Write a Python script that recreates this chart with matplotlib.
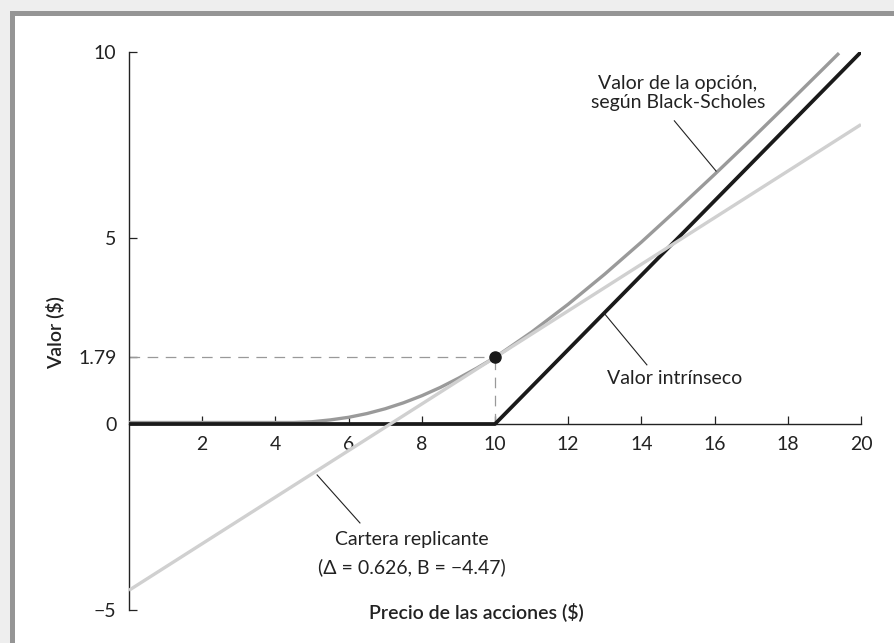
import matplotlib.pyplot as plt
from matplotlib.patches import Rectangle

plt.rcParams['font.family'] = ['Lato', 'DejaVu Sans']

# precio de la accion y valor de la opcion (Black-Scholes)
precio_bs = [0, 2, 4, 4.5, 5, 5.5, 6, 6.5, 7, 7.5, 8, 8.5, 9, 9.5, 10,
             10.5, 11, 12, 13, 14, 15, 16, 17, 18, 19, 19.4]
valor_bs = [0.04, 0.04, 0.04, 0.04, 0.06, 0.11, 0.18, 0.28, 0.41, 0.57,
            0.76, 0.98, 1.23, 1.50, 1.79, 2.13, 2.47, 3.22, 4.03, 4.89,
            5.79, 6.71, 7.65, 8.61, 9.58, 9.97]

# valor intrinseco
precio_int = [0, 10, 20]
valor_int = [0, 0, 10]

# cartera replicante
precio_rep = [0, 20]
valor_rep = [-4.47, 8.05]

punto = (10, 1.79)

xticks = [2, 4, 6, 8, 10, 12, 14, 16, 18, 20]
yticks = [-5, 0, 1.79, 5, 10]
ytick_labels = ['\u22125', '0', '1.79', '5', '10']

FS = 14
W, H = 894, 643
fig = plt.figure(figsize=(8.94, 6.43), dpi=100, facecolor='#eeeeee')
fig.patches.append(Rectangle((10 / W, 0), 1, 1 - 11 / H, transform=fig.transFigure,
                             facecolor='#959595', edgecolor='none', zorder=-10))
fig.patches.append(Rectangle((15 / W, 0), 1, 1 - 16 / H, transform=fig.transFigure,
                             facecolor='white', edgecolor='none', zorder=-9))

ax = fig.add_axes([129 / W, 1 - 610 / H, 732 / W, 558 / H])
ax.set_facecolor('none')
ax.set_xlim(0, 20)
ax.set_ylim(-5, 10)

ax.plot(precio_bs, valor_bs, color='#9a9a9a', lw=2.4, solid_capstyle='butt', zorder=3)
ax.plot(precio_int, valor_int, color='#1a1a1a', lw=2.7, solid_capstyle='butt', zorder=4)
ax.plot(precio_rep, valor_rep, color='#d0d0d0', lw=2.4, solid_capstyle='butt', zorder=5)

ax.plot([0, punto[0]], [punto[1], punto[1]], color='#999999', lw=0.9,
        dashes=(8.5, 6), zorder=2)
ax.plot([punto[0], punto[0]], [0, punto[1]], color='#999999', lw=0.9,
        dashes=(8.5, 6), zorder=2)
ax.plot(*punto, 'o', color='#1a1a1a', ms=8, zorder=6)

for s in ['top', 'right']:
    ax.spines[s].set_visible(False)
ax.spines['bottom'].set_position(('data', 0))
ax.spines['left'].set_bounds(-5, 10)
for s in ['left', 'bottom']:
    ax.spines[s].set_linewidth(1.0)
    ax.spines[s].set_color('#222222')

ax.set_xticks(xticks)
ax.set_yticks(yticks)
ax.set_yticklabels(ytick_labels)
ax.tick_params(axis='x', direction='in', length=6, width=0.9, pad=9,
               labelsize=FS, colors='#222222')
ax.tick_params(axis='y', direction='in', length=6, width=0.9, pad=9,
               labelsize=FS, colors='#222222')

# anotaciones
ax.plot([14.9, 16.04], [8.15, 6.8], color='#222222', lw=0.8, zorder=7)
ax.text(15.0, 8.9, 'Valor de la opción,\nsegún Black-Scholes', ha='center',
        va='center', fontsize=FS, color='#222222', linespacing=1.2)

ax.plot([12.98, 14.15], [2.98, 1.59], color='#222222', lw=0.8, zorder=7)
ax.text(14.9, 1.23, 'Valor intrínseco', ha='center', va='center',
        fontsize=FS, color='#222222')

ax.plot([5.14, 6.31], [-1.37, -2.66], color='#222222', lw=0.8, zorder=7)
ax.text(7.73, -3.1, 'Cartera replicante', ha='center', va='center',
        fontsize=FS, color='#222222')
ax.text(7.73, -3.85, '(\u0394 = 0.626, B = \u22124.47)', ha='center', va='center',
        fontsize=FS, color='#222222')

fig.text(476 / W, 1 - 612 / H, 'Precio de las acciones ($)', ha='center', va='center',
         fontsize=FS, fontweight='semibold', color='#222222')
fig.text(55 / W, 1 - 333 / H, 'Valor ($)', ha='center', va='center', rotation=90,
         fontsize=FS, fontweight='semibold', color='#222222')

fig.savefig('out.png', dpi=100, facecolor=fig.get_facecolor())
